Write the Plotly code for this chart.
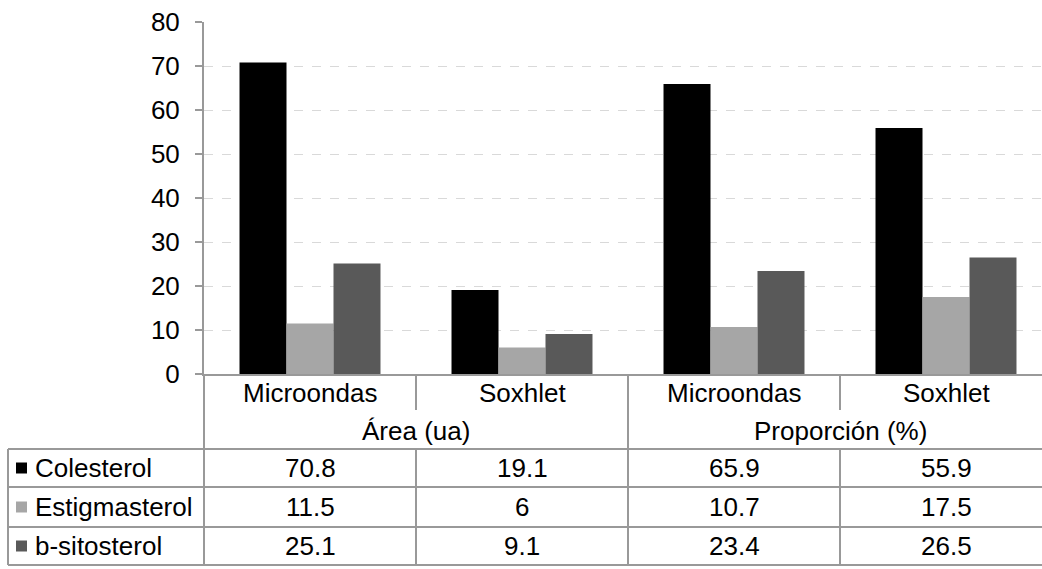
import plotly.graph_objects as go

# Data
groups = ["Área (ua)", "Proporción (%)"]
methods = ["Microondas", "Soxhlet", "Microondas", "Soxhlet"]
series = ["Colesterol", "Estigmasterol", "b-sitosterol"]
colesterol = [70.8, 19.1, 65.9, 55.9]
estigmasterol = [11.5, 6, 10.7, 17.5]
b_sitosterol = [25.1, 9.1, 23.4, 26.5]
values = [colesterol, estigmasterol, b_sitosterol]
colors = ["#000000", "#a6a6a6", "#595959"]
y_ticks = [0, 10, 20, 30, 40, 50, 60, 70, 80]

W, H = 1042, 569
L, T, B = 204, 22, 374          # plot area pixel edges (left, top, bottom)
PW, PH = W - L, B - T
FONT = "Liberation Sans, Arial, sans-serif"
FS = 26
LINE = "#999999"

def px(x):
    return (x - L) / PW

def py(y):
    return (B - y) / PH

xpos = list(range(len(methods)))
fig = go.Figure()
for name, vals, col in zip(series, values, colors):
    fig.add_trace(go.Bar(x=xpos, y=vals, name=name, marker=dict(color=col, line=dict(width=0))))

shapes = []
annotations = []

def hline(y, x0, x1):
    shapes.append(dict(type="line", xref="paper", yref="paper", x0=px(x0), x1=px(x1),
                       y0=py(y), y1=py(y), line=dict(color=LINE, width=2)))

def vline(x, y0, y1, xref="x"):
    shapes.append(dict(type="line", xref=xref, yref="paper", x0=x, x1=x,
                       y0=py(y0), y1=py(y1), line=dict(color=LINE, width=2)))

def label(x, y, text, xref="x", xanchor="center"):
    annotations.append(dict(x=x, y=py(y), xref=xref, yref="paper", text=text,
                            xanchor=xanchor, yanchor="middle", showarrow=False,
                            font=dict(size=FS, color="#000", family=FONT)))

# axis line continuing down through the table
vline(px(L), B, 565, xref="paper")
# separators between methods (short) and between groups (full height)
vline(0.5, B, 410)
vline(2.5, B, 410)
vline(1.5, B, 565)
vline(0.5, 449, 565)
vline(2.5, 449, 565)
# table left edge
vline(px(8), 449, 565, xref="paper")
# table horizontal rules
for yy in [449, 487, 527, 565]:
    hline(yy, 8, W)

# method labels
for i, m in enumerate(methods):
    label(i, 393, m)
# group labels
for g, gi in zip(groups, [0.5, 2.5]):
    label(gi, 431, g)

# table rows
row_y = [468, 507, 546]
for ry, name, vals, col in zip(row_y, series, values, colors):
    shapes.append(dict(type="rect", xref="paper", yref="paper", x0=px(16), x1=px(27),
                       y0=py(ry + 5.5), y1=py(ry - 5.5), fillcolor=col, line=dict(width=0)))
    label(px(33), ry, name, xref="paper", xanchor="left")
    for i, v in enumerate(vals):
        label(i, ry, f"{v:g}")

fig.update_layout(
    width=W, height=H,
    margin=dict(l=L, r=0, t=T, b=H - B, pad=0),
    paper_bgcolor="white", plot_bgcolor="white",
    barmode="group", bargap=0.335, bargroupgap=0,
    showlegend=False,
    shapes=shapes, annotations=annotations,
    font=dict(family=FONT, size=FS, color="#000"),
    xaxis=dict(range=[-0.5, (W - L) / 212 - 0.5], showticklabels=False, showgrid=False,
               zeroline=False, showline=True, linecolor=LINE, linewidth=2, ticks=""),
    yaxis=dict(range=[0, 80], tickvals=y_ticks, showgrid=True, gridcolor="#d9d9d9",
               griddash="dash", gridwidth=1, zeroline=False, showline=True,
               linecolor=LINE, linewidth=2, ticks="outside", ticklen=7, tickwidth=2,
               tickcolor=LINE, ticklabelstandoff=10,
               tickfont=dict(size=FS, color="#000", family=FONT)),
)

fig.write_html("out.html")
